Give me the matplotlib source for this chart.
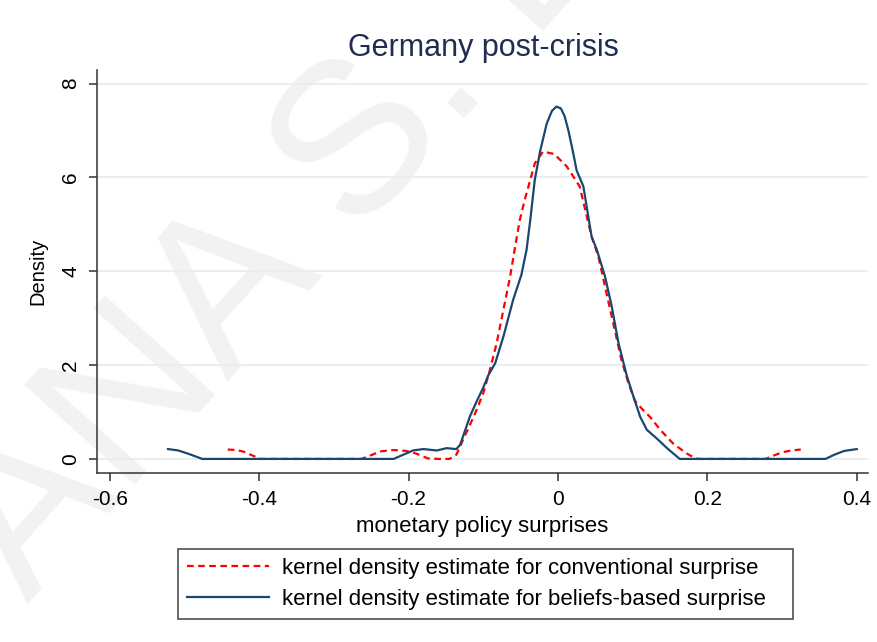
import matplotlib
matplotlib.use("Agg")
import matplotlib.pyplot as plt

plt.rcParams['font.family'] = ['Liberation Sans', 'DejaVu Sans']

title = "Germany post-crisis"
xlabel = "monetary policy surprises"
ylabel = "Density"
label_conv = "kernel density estimate for conventional surprise"
label_bel = "kernel density estimate for beliefs-based surprise"

xticks = [-0.6, -0.4, -0.2, 0, 0.2, 0.4]
xticklabels = ["-0.6", "-0.4", "-0.2", "0", "0.2", "0.4"]
yticks = [0, 2, 4, 6, 8]
yticklabels = ["0", "2", "4", "6", "8"]

# beliefs-based surprise density (solid navy)
bel_x = [-0.522, -0.508, -0.493, -0.476, -0.220, -0.207, -0.194, -0.180, -0.162,
         -0.149, -0.136, -0.131, -0.124, -0.118, -0.109, -0.100, -0.093, -0.084,
         -0.073, -0.060, -0.049, -0.042, -0.037, -0.031, -0.024, -0.015, -0.008,
         -0.002, 0.004, 0.009, 0.014, 0.020, 0.025, 0.034, 0.045, 0.052, 0.063,
         0.072, 0.081, 0.092, 0.101, 0.110, 0.119, 0.132, 0.146, 0.163, 0.358,
         0.370, 0.383, 0.400]
bel_y = [0.21, 0.18, 0.10, 0.0, 0.0, 0.09, 0.18, 0.21, 0.18,
         0.23, 0.21, 0.30, 0.62, 0.90, 1.22, 1.52, 1.79, 2.04,
         2.61, 3.39, 3.92, 4.46, 5.10, 5.95, 6.55, 7.15, 7.42,
         7.51, 7.47, 7.30, 7.00, 6.55, 6.15, 5.81, 4.74, 4.46, 3.89,
         3.25, 2.47, 1.78, 1.33, 0.90, 0.62, 0.44, 0.23, 0.0, 0.0,
         0.09, 0.17, 0.21]

# conventional surprise density (dashed red)
conv_x = [-0.442, -0.430, -0.420, -0.410, -0.398, -0.263, -0.250, -0.238, -0.220,
          -0.203, -0.189, -0.174, -0.160, -0.145, -0.136, -0.127, -0.118, -0.109,
          -0.100, -0.091, -0.082, -0.073, -0.064, -0.058, -0.051, -0.044, -0.037,
          -0.031, -0.020, -0.005, 0.012, 0.029, 0.045, 0.054, 0.065, 0.074, 0.085,
          0.094, 0.103, 0.114, 0.123, 0.137, 0.154, 0.172, 0.183, 0.188, 0.278,
          0.290, 0.300, 0.312, 0.325]
conv_y = [0.20, 0.19, 0.15, 0.08, 0.0, 0.0, 0.08, 0.16, 0.19,
          0.17, 0.11, 0.01, 0.0, 0.0, 0.09, 0.41, 0.72, 1.04,
          1.40, 1.90, 2.47, 3.18, 3.89, 4.46, 5.10, 5.55, 5.95,
          6.30, 6.55, 6.50, 6.23, 5.81, 4.74, 4.32, 3.53, 2.89, 2.11,
          1.63, 1.24, 1.04, 0.90, 0.62, 0.33, 0.12, 0.02, 0.0, 0.0,
          0.08, 0.14, 0.18, 0.20]

W, H = 878, 642
fig = plt.figure(figsize=(W / 100, H / 100), dpi=100)
fig.patch.set_facecolor('white')

# faint watermark
fig.text(28 / W, 38 / H, "ANA S. L", fontsize=155, color='#f2f2f2',
         rotation=48, rotation_mode='anchor', ha='left', va='baseline', zorder=-5)

ax = fig.add_axes([97 / W, 1 - 473 / H, (868 - 97) / W, (473 - 70) / H])
ax.set_facecolor('none')
ax.set_xlim(-0.617, 0.415)
ax.set_ylim(-0.30, 8.29)

ax.plot(conv_x, conv_y, color='#ff0000', lw=1.6, linestyle=(0, (3, 2)),
        label=label_conv, zorder=3)
ax.plot(bel_x, bel_y, color='#1a476f', lw=1.6, label=label_bel, zorder=4)

ax.set_yticks(yticks)
ax.set_yticklabels(yticklabels, rotation=90, va='center')
ax.set_xticks(xticks)
ax.set_xticklabels(xticklabels)
ax.grid(axis='y', color='#e6eef1', lw=1.3)
ax.set_axisbelow(True)
ax.tick_params(axis='both', labelsize=15, length=6, width=1.1, color='#333333', pad=6)
for s in ['top', 'right']:
    ax.spines[s].set_visible(False)
for s in ['left', 'bottom']:
    ax.spines[s].set_color('#333333')
    ax.spines[s].set_linewidth(1.1)

ax.set_xlabel(xlabel, fontsize=16, labelpad=5)
ax.set_ylabel(ylabel, fontsize=14.5, labelpad=10)
fig.text(483 / W, 1 - 48 / H, title, fontsize=22, color='#1e2d50',
         ha='center', va='center')

h, l = ax.get_legend_handles_labels()
leg = fig.legend(h, l, loc='center',
                 bbox_to_anchor=(178 / W, 1 - 620 / H, 615 / W, 72 / H),
                 mode='expand', borderaxespad=0, fontsize=16, frameon=True,
                 fancybox=False, edgecolor='#222222', handlelength=3.7,
                 handletextpad=0.6, borderpad=0.4, labelspacing=0.45)
leg.get_frame().set_linewidth(1.2)

fig.savefig("out.png", dpi=100)
